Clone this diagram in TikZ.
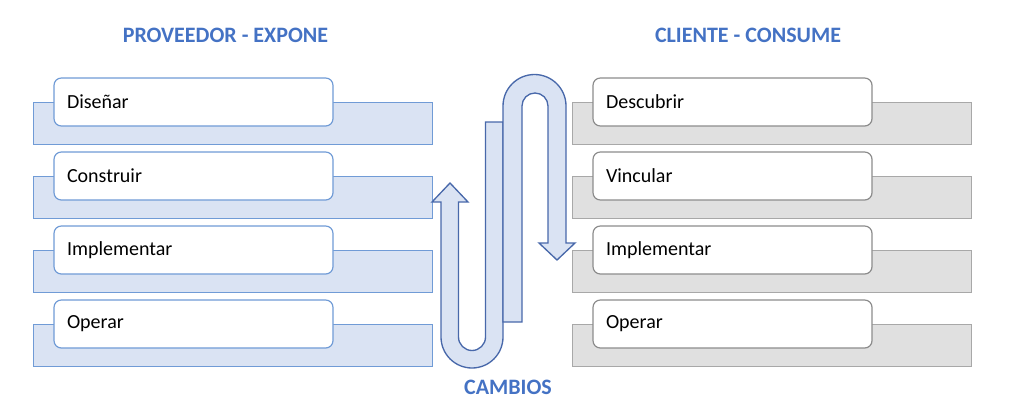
\documentclass[tikz,border=0pt]{standalone}
\usepackage{fontspec}
\setmainfont{Carlito}
\usetikzlibrary{positioning,calc}

\definecolor{ttlblue}{RGB}{68,114,196}
\definecolor{bandfill}{RGB}{218,227,243}
\definecolor{bandline}{RGB}{72,104,170}
\definecolor{backline}{RGB}{112,155,214}
\definecolor{grayfill}{RGB}{224,224,224}
\definecolor{grayline}{RGB}{168,168,168}
\definecolor{cardgray}{RGB}{140,140,140}

\begin{document}
\begin{tikzpicture}[x=0.75pt, y=0.75pt,
		ttl/.style={font=\fontsize{16.5}{19}\selectfont\bfseries, text=ttlblue},
		backl/.style={draw=backline, fill=bandfill, line width=0.75pt,
			minimum width=299.25pt, minimum height=31.5pt, inner sep=0pt, outer sep=0pt},
		backr/.style={backl, draw=grayline, fill=grayfill},
		cardl/.style={draw=backline, fill=white, line width=0.9pt, rounded corners=5.5pt,
			text width=189.75pt, align=left, inner xsep=9.75pt, inner ysep=0pt,
			minimum height=36pt, outer sep=0pt, font=\fontsize{15}{18}\selectfont},
		cardr/.style={cardl, draw=cardgray},
		band/.style={draw=bandline, fill=bandfill, line width=1pt, line join=miter}]
	\useasboundingbox (0,0) rectangle (1024,-415);

	\node[ttl] (prov) at (225.5,-35) {PROVEEDOR - EXPONE};
	\node[ttl] (cli) at (748,-35) {CLIENTE - CONSUME};
	\node[ttl] (camb) at (508,-387) {CAMBIOS};

	% proveedor
	\node[backl, anchor=north west] (b1) at (33,-102) {};
	\node[backl, below=24pt of b1] (b2) {};
	\node[backl, below=24pt of b2] (b3) {};
	\node[backl, below=24pt of b3] (b4) {};

	\node[cardl, anchor=north west] (dis) at ($(b1.north west)+(21,24)$) {Diseñar};
	\node[cardl, anchor=north west] (con) at ($(b2.north west)+(21,24)$) {Construir};
	\node[cardl, anchor=north west] (impl) at ($(b3.north west)+(21,24)$) {Implementar};
	\node[cardl, anchor=north west] (opl) at ($(b4.north west)+(21,24)$) {Operar};

	% cliente
	\node[backr, anchor=north west] (g1) at (572,-102) {};
	\node[backr, below=24pt of g1] (g2) {};
	\node[backr, below=24pt of g2] (g3) {};
	\node[backr, below=24pt of g3] (g4) {};

	\node[cardr, anchor=north west] (des) at ($(g1.north west)+(21,24)$) {Descubrir};
	\node[cardr, anchor=north west] (vin) at ($(g2.north west)+(21,24)$) {Vincular};
	\node[cardr, anchor=north west] (impr) at ($(g3.north west)+(21,24)$) {Implementar};
	\node[cardr, anchor=north west] (opr) at ($(g4.north west)+(21,24)$) {Operar};

	% cambios
	\draw[band] (503,-122) -- (503,-337) arc[start angle=0, end angle=-180, radius=23.25pt]
		-- (441,-202) -- (432,-202) -- (450,-183) -- (468,-202) -- (458.5,-202)
		-- (458.5,-337) arc[start angle=180, end angle=360, radius=10.125pt]
		-- (485.5,-122) -- cycle;
	\draw[band] (503,-322) -- (503,-106) arc[start angle=180, end angle=0, radius=23.625pt]
		-- (566,-243) -- (575,-243) -- (557,-260) -- (539,-243) -- (548,-243)
		-- (548,-106) arc[start angle=0, end angle=180, radius=9.75pt]
		-- (522,-322) -- cycle;
\end{tikzpicture}
\end{document}
